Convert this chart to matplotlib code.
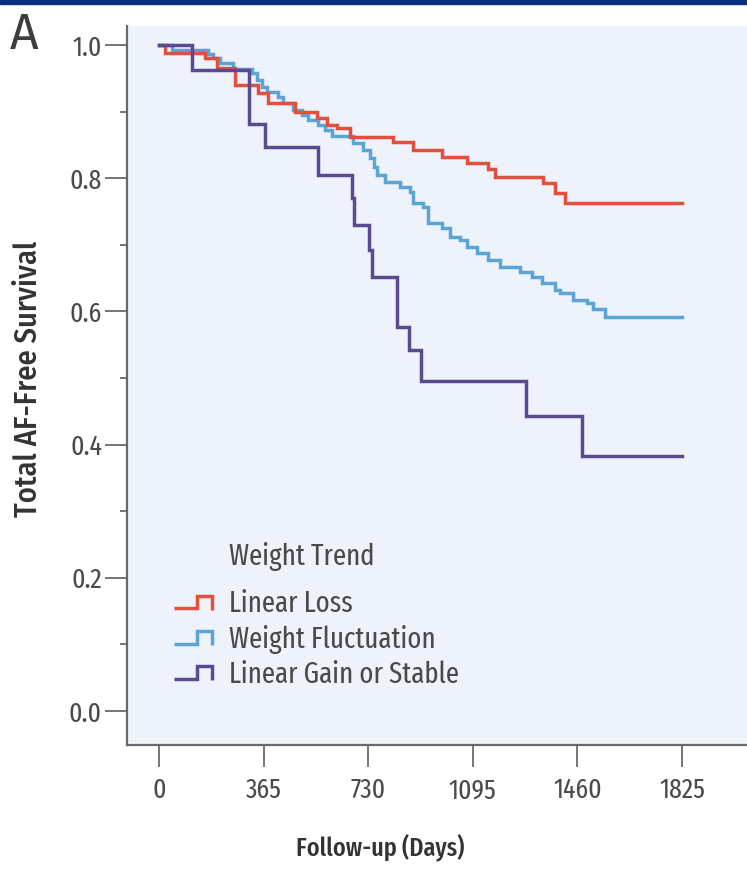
import matplotlib
matplotlib.use('Agg')
import matplotlib.pyplot as plt
import numpy as np
from matplotlib.legend_handler import HandlerBase
from matplotlib.lines import Line2D
from matplotlib.patches import Rectangle
from matplotlib.ticker import MultipleLocator

plt.rcParams['font.family'] = ['Fira Sans Extra Condensed', 'DejaVu Sans']

# Kaplan-Meier step data: day of each drop and survival after it
loss_days = [0, 21, 160, 202, 265, 345, 380, 475, 551, 586, 621, 666, 817, 886,
             988, 1075, 1148, 1172, 1340, 1382, 1417, 1825]
loss_surv = [1.0, 0.988, 0.98, 0.965, 0.94, 0.928, 0.913, 0.90, 0.89, 0.88, 0.875,
             0.862, 0.854, 0.842, 0.832, 0.823, 0.814, 0.802, 0.793, 0.778, 0.763, 0.763]

fluct_days = [0, 45, 171, 188, 213, 258, 325, 342, 360, 377, 415, 433, 468, 499, 520,
              555, 579, 604, 677, 712, 736, 750, 761, 789, 841, 876, 886, 921, 939, 988,
              1015, 1050, 1075, 1110, 1148, 1190, 1260, 1302, 1336, 1382, 1399, 1445,
              1493, 1514, 1556, 1825]
fluct_surv = [1.0, 0.993, 0.986, 0.98, 0.973, 0.964, 0.958, 0.947, 0.937, 0.929, 0.922,
              0.913, 0.902, 0.895, 0.887, 0.88, 0.872, 0.863, 0.853, 0.842, 0.83, 0.817,
              0.805, 0.794, 0.787, 0.779, 0.763, 0.757, 0.733, 0.725, 0.712, 0.707, 0.697,
              0.688, 0.677, 0.667, 0.659, 0.652, 0.643, 0.632, 0.628, 0.617, 0.613, 0.604,
              0.592, 0.592]

gain_days = [0, 115, 314, 370, 555, 673, 681, 733, 743, 830, 872, 914, 1281, 1476, 1825]
gain_surv = [1.0, 0.962, 0.881, 0.847, 0.805, 0.770, 0.73, 0.692, 0.652, 0.577, 0.542,
             0.495, 0.443, 0.383, 0.383]

series_names = ['Linear Loss', 'Weight Fluctuation', 'Linear Gain or Stable']
x_ticks = [0, 365, 730, 1095, 1460, 1825]

red = '#e0503d'
blue = '#5ba4d6'
purple = '#584b8f'
grey = '#4a4a4a'


class StepHandler(HandlerBase):
    # little step glyph for the legend
    def create_artists(self, legend, orig_handle, xdescent, ydescent, width, height, fontsize, trans):
        fx = np.array([0.0, 0.6, 0.6, 1.0, 1.0])
        fy = np.array([0.0, 0.0, 1.0, 1.0, -0.1])
        line = Line2D(-xdescent + width * fx, -ydescent + height * (0.2 + 0.62 * fy),
                      color=orig_handle.get_color(), lw=orig_handle.get_linewidth(),
                      solid_joinstyle='miter', solid_capstyle='butt')
        line.set_transform(trans)
        return [line]


fig = plt.figure(figsize=(7.47, 8.69), dpi=100)
ax = fig.add_axes([0.170, 0.1427, 0.83, 0.8273])
ax.set_facecolor('#eef2fa')

# navy strip along the top edge
fig.patches.append(Rectangle((0, 1 - 4 / 869), 1, 4 / 869, transform=fig.transFigure,
                             color='#0b2f7e', zorder=0))

lw = 2.5
h_fluct, = ax.step(fluct_days, fluct_surv, where='post', color=blue, lw=lw,
                   solid_joinstyle='miter')
h_loss, = ax.step(loss_days, loss_surv, where='post', color=red, lw=lw,
                  solid_joinstyle='miter')
h_gain, = ax.step(gain_days, gain_surv, where='post', color=purple, lw=lw,
                  solid_joinstyle='miter')

ax.set_xlim(-111.7, 2052)
ax.set_ylim(-0.051, 1.0285)

ax.spines['top'].set_visible(False)
ax.spines['right'].set_visible(False)
for s in ['left', 'bottom']:
    ax.spines[s].set_color('#6a6a6a')
    ax.spines[s].set_linewidth(1.6)

ax.set_xticks(x_ticks)
ax.set_xticklabels([str(t) for t in x_ticks])
ax.yaxis.set_major_locator(MultipleLocator(0.2))
ax.yaxis.set_minor_locator(MultipleLocator(0.1))
ax.tick_params(axis='both', which='major', length=16, width=1.3, color='#6a6a6a',
               labelsize=20, labelcolor=grey)
ax.tick_params(axis='y', which='major', pad=2)
ax.tick_params(axis='x', which='major', pad=7)
ax.tick_params(axis='y', which='minor', length=5, width=1.3, color='#6a6a6a')

ax.set_xlabel('Follow-up (Days)', fontsize=19, color='#333333', fontweight='medium')
ax.set_ylabel('Total AF-Free Survival', fontsize=22, color='#333333', fontweight='medium',
              family=['Fira Sans Condensed', 'DejaVu Sans'])
ax.xaxis.set_label_coords(0.408, -0.125)
ax.yaxis.set_label_coords(-0.135, 0.51)

leg = ax.legend([h_loss, h_fluct, h_gain], series_names,
                handler_map={Line2D: StepHandler()},
                loc='upper left', bbox_to_anchor=(0.057, 0.232), frameon=False,
                fontsize=21, handlelength=1.3, handletextpad=0.6, labelspacing=0.22,
                borderaxespad=0)
for t in leg.get_texts():
    t.set_color(grey)

# legend heading lined up with the entry labels
fig.canvas.draw()
x0 = leg.get_texts()[0].get_window_extent().x0
x_ax = ax.transAxes.inverted().transform((x0, 0))[0]
ax.text(x_ax, 0.2615, 'Weight Trend', transform=ax.transAxes, fontsize=21,
        color=grey, ha='left', va='center')

fig.text(10 / 747, 1 - 49 / 869, 'A', fontsize=36, color='#3d3d3d', ha='left', va='baseline',
         family=['Fira Sans', 'DejaVu Sans'])

fig.savefig('out.png', dpi=100)
